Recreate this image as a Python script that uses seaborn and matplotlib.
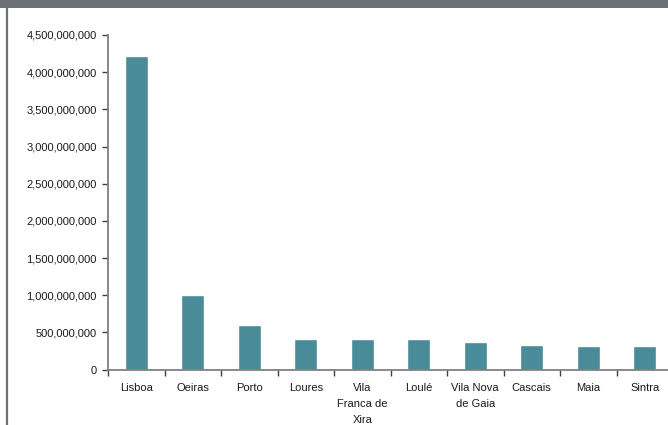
import matplotlib
matplotlib.use("Agg")
import matplotlib.pyplot as plt
from matplotlib.patches import Rectangle
from matplotlib.lines import Line2D
from matplotlib.ticker import FuncFormatter, FixedLocator
import seaborn as sns
import pandas as pd

# Municipalities and their values
municipios = ["Lisboa", "Oeiras", "Porto", "Loures", "Vila\nFranca de\nXira",
              "Loulé", "Vila Nova\nde Gaia", "Cascais", "Maia", "Sintra"]
valores = [4.22e9, 1.00e9, 0.60e9, 0.41e9, 0.41e9,
           0.41e9, 0.37e9, 0.33e9, 0.31e9, 0.31e9]
y_ticks = [0, 5e8, 1e9, 1.5e9, 2e9, 2.5e9, 3e9, 3.5e9, 4e9, 4.5e9]

df = pd.DataFrame({"municipio": municipios, "valor": valores})

sns.set_theme(style="white")
plt.rcParams["font.family"] = ["Liberation Sans", "DejaVu Sans"]

W, H = 668, 425
fig = plt.figure(figsize=(W / 100, H / 100), dpi=100)
fig.patch.set_facecolor("white")

# axes: y-axis at x=108, baseline at y=369.5, top (4.5e9) at y=35
ax = fig.add_axes([108 / W, 55.5 / H, 565 / W, 334.5 / H])
sns.barplot(data=df, x="municipio", y="valor", color="#4a8b9a",
            width=0.41, saturation=1, ax=ax)

ax.set_xlim(-0.5, 9.5)
ax.set_ylim(0, 4.5e9)
ax.set_yticks(y_ticks)
ax.yaxis.set_major_formatter(FuncFormatter(lambda v, p: f"{v:,.0f}"))
ax.set_xlabel("")
ax.set_ylabel("")

for s in ["top", "right"]:
    ax.spines[s].set_visible(False)
for s in ["left", "bottom"]:
    ax.spines[s].set_color("#808080")
    ax.spines[s].set_linewidth(1.3)

ax.tick_params(axis="y", which="major", left=True, length=4, width=1,
               color="#404040", pad=4, labelsize=8, labelcolor="#1a1a1a")
ax.tick_params(axis="x", which="major", bottom=False, length=0, pad=10,
               labelsize=8, labelcolor="#1a1a1a")
ax.xaxis.set_minor_locator(FixedLocator([i - 0.5 for i in range(11)]))
ax.tick_params(axis="x", which="minor", bottom=True, length=4, width=1,
               color="#404040")
for lab in ax.get_xticklabels():
    lab.set_linespacing(1.7)
    lab.set_verticalalignment("top")

# dark header band and left frame line
fig.patches.append(Rectangle((0, (H - 8) / H), 1, 8 / H, transform=fig.transFigure,
                             facecolor="#6d7075", edgecolor="none", zorder=5))
fig.lines.append(Line2D([7 / W, 7 / W], [0, 1], transform=fig.transFigure,
                        color="#6d7075", linewidth=1.6, zorder=5))

fig.savefig("out.png", dpi=100)
